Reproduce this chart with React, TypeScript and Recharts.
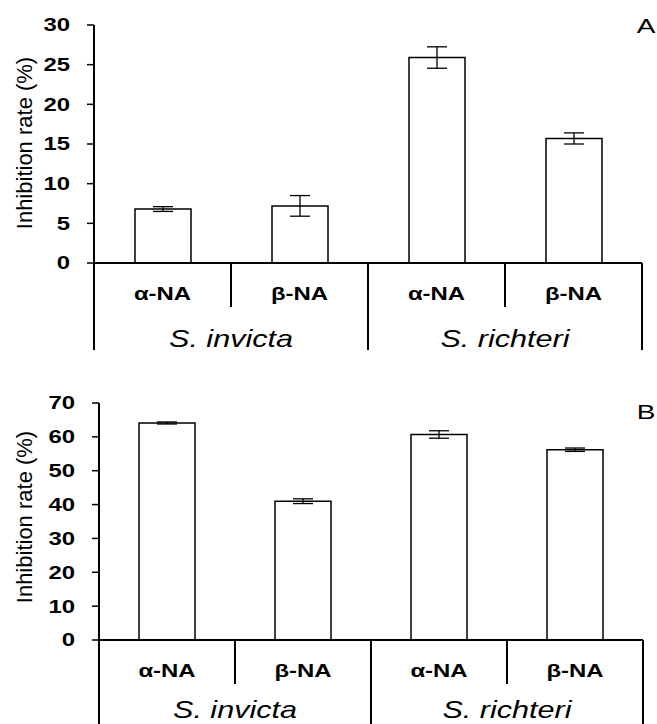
import React from 'react';
import { BarChart, Bar, XAxis, YAxis, ErrorBar } from 'recharts';

const treatments = ['α-NA', 'β-NA', 'α-NA', 'β-NA'];
const species = ['S. invicta', 'S. invicta', 'S. richteri', 'S. richteri'];

// panel A
const inhibitionA = [6.8, 7.2, 25.9, 15.7];
const errA = [0.3, 1.3, 1.35, 0.7];
const ticksA = [0, 5, 10, 15, 20, 25, 30];

// panel B
const inhibitionB = [64.1, 41.0, 60.7, 56.2];
const errB = [0.3, 0.7, 1.1, 0.5];
const ticksB = [0, 10, 20, 30, 40, 50, 60, 70];

const FONT = '"Liberation Sans", Arial, sans-serif';
const STRETCH = 1.33;

const makeRows = (vals: number[], errs: number[]) =>
  treatments.map((t, i) => ({ treat: t, species: species[i], value: vals[i], err: errs[i] }));

const YTick = (props: any) => {
  const { x, y, payload } = props;
  return (
    <text
      transform={`translate(${x},${y}) scale(${STRETCH},1)`}
      textAnchor="end"
      dy="0.36em"
      fontFamily={FONT}
      fontWeight="bold"
      fontSize={18}
      fill="#000"
    >
      {payload.value}
    </text>
  );
};

const makeXTick = (bw: number, ext: number, spDy: number) => (props: any) => {
  const { x, y, payload, index } = props;
  const half = bw / 2;
  const groupEnd = index % 2 === 1;
  return (
    <g>
      <text
        transform={`translate(${x},${y + 37}) scale(${STRETCH},1)`}
        textAnchor="middle"
        fontFamily={FONT}
        fontWeight="bold"
        fontSize={18}
        fill="#000"
      >
        {payload.value}
      </text>
      {index === 0 && (
        <line x1={x - half} x2={x - half} y1={y} y2={y + ext} stroke="#000" strokeWidth={2} />
      )}
      <line
        x1={x + half}
        x2={x + half}
        y1={y}
        y2={y + (groupEnd ? ext : 44)}
        stroke="#000"
        strokeWidth={2}
      />
      {!groupEnd && (
        <text
          transform={`translate(${x + half},${y + spDy}) scale(${STRETCH},1)`}
          textAnchor="middle"
          fontFamily={FONT}
          fontStyle="italic"
          fontSize={23}
          fill="#000"
        >
          {species[index]}
        </text>
      )}
    </g>
  );
};

interface PanelProps {
  rows: any[];
  ticks: number[];
  max: number;
  height: number;
  top: number;
  axisW: number;
  right: number;
  xH: number;
  bw: number;
  ext: number;
  spDy: number;
}

const Panel = ({ rows, ticks, max, height, top, axisW, right, xH, bw, ext, spDy }: PanelProps) => (
  <BarChart
    width={657}
    height={height}
    data={rows}
    margin={{ top, right, left: 0, bottom: 0 }}
    barSize={56}
  >
    <XAxis
      dataKey="treat"
      height={xH}
      interval={0}
      tickLine={false}
      tickSize={0}
      tickMargin={0}
      axisLine={{ stroke: '#000', strokeWidth: 2 }}
      tick={makeXTick(bw, ext, spDy)}
    />
    <YAxis
      width={axisW}
      domain={[0, max]}
      ticks={ticks}
      interval={0}
      tickSize={7}
      tickMargin={17}
      axisLine={{ stroke: '#000', strokeWidth: 2 }}
      tickLine={{ stroke: '#000', strokeWidth: 1.5 }}
      tick={<YTick />}
    />
    <Bar dataKey="value" fill="#fff" stroke="#000" strokeWidth={1.5} isAnimationActive={false}>
      <ErrorBar dataKey="err" width={10} stroke="#000" strokeWidth={1.3} isAnimationActive={false} />
    </Bar>
  </BarChart>
);

const titleStyle = (cy: number): React.CSSProperties => ({
  position: 'absolute',
  left: 25,
  top: cy,
  transform: 'translate(-50%, -50%) rotate(-90deg)',
  whiteSpace: 'nowrap',
  fontFamily: FONT,
  fontSize: 22,
  color: '#000',
});

const letterStyle = (top: number): React.CSSProperties => ({
  position: 'absolute',
  left: 646,
  top,
  transform: `translateX(-50%) scaleX(${STRETCH})`,
  fontFamily: FONT,
  fontSize: 21,
  lineHeight: '21px',
  color: '#000',
});

export default function App() {
  return (
    <div style={{ position: 'absolute', left: 0, top: 0, width: 657, height: 724, background: '#fff', overflow: 'hidden' }}>
      <div style={{ position: 'absolute', left: 0, top: 0 }}>
        <Panel
          rows={makeRows(inhibitionA, errA)}
          ticks={ticksA}
          max={30}
          height={360}
          top={25}
          axisW={94}
          right={15}
          xH={97}
          bw={137}
          ext={87}
          spDy={84}
        />
      </div>
      <div style={{ position: 'absolute', left: 0, top: 360 }}>
        <Panel
          rows={makeRows(inhibitionB, errB)}
          ticks={ticksB}
          max={70}
          height={364}
          top={43}
          axisW={99}
          right={14}
          xH={84}
          bw={136}
          ext={90}
          spDy={78}
        />
      </div>
      <div style={titleStyle(143)}>Inhibition rate (%)</div>
      <div style={titleStyle(517)}>Inhibition rate (%)</div>
      <div style={letterStyle(15)}>A</div>
      <div style={letterStyle(401)}>B</div>
    </div>
  );
}
